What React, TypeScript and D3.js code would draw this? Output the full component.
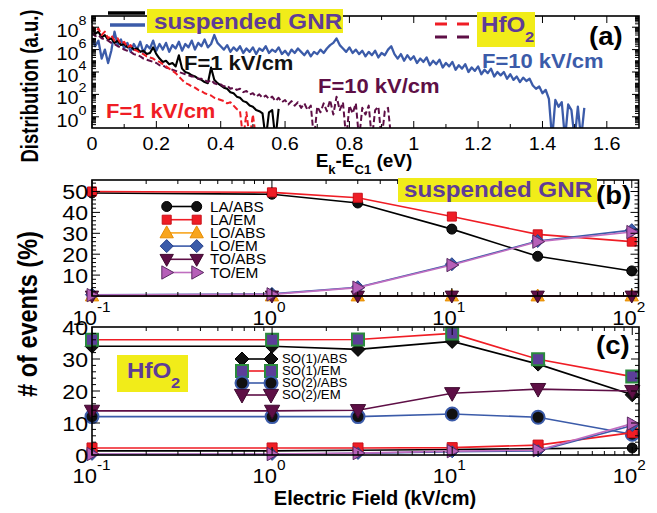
import React from "react";
import * as d3 from "d3";

const FONT = '"Liberation Sans", Arial, Helvetica, sans-serif';

// ---- panel (a): log10 of the distribution, one value every 0.01 eV from 0 ----
const energyStep = 0.01;
const gnrF10 = [
  7.0, 6.3, 6.8, 5.2, 6.0, 4.8, 5.9, 7.6, 6.4, 6.9, 6.1, 6.6, 5.8, 6.5, 6.0, 6.7, 5.7, 6.4, 6.1, 6.8,
  5.9, 6.5, 6.0, 6.6, 5.8, 6.4, 6.1, 6.7, 5.9, 6.5, 6.2, 6.8, 6.0, 6.6, 6.3, 6.9, 6.2, 6.5, 7.3, 6.6,
  6.3, 6.0, 6.4, 5.8, 6.2, 5.9, 6.3, 5.7, 6.1, 5.8, 6.2, 5.6, 6.1, 5.9, 6.3, 5.7, 6.0, 5.8, 6.2, 5.6,
  5.9, 5.5, 6.0, 5.7, 6.1, 5.8, 5.5, 5.9, 5.4, 5.8, 5.6, 6.0, 5.7, 6.1, 6.4, 6.6, 7.0, 6.4, 6.1, 5.8,
  6.2, 5.7, 6.0, 5.6, 5.9, 5.4, 5.8, 5.5, 5.9, 5.3, 5.7, 5.5, 6.0, 6.3, 5.6, 5.2, 5.6, 5.0, 5.5, 5.1,
  5.4, 4.8, 5.2, 4.9, 5.3, 4.6, 5.0, 4.7, 5.1, 4.4, 4.8, 4.5, 4.9, 4.2, 4.6, 4.3, 4.7, 4.0, 4.4, 4.1,
  4.5, 3.8, 4.2, 3.9, 4.3, 3.6, 4.0, 3.7, 4.0, 3.4, 3.8, 3.3, 3.6, 3.1, 3.5, 3.2, 3.4, 2.8, 2.5, 2.7,
  2.1, 2.4, 1.6, -2, 1.5, 0.9, 1.3, -2, 1.1, 0.6, -2, 0.9, -2, 0.8,
];
const gnrF1 = [
  8.0, 7.4, 7.6, 7.1, 7.3, 6.9, 7.0, 6.6, 6.8, 6.4, 6.5, 6.2, 6.3, 6.0, 6.1, 5.8, 5.9, 5.6, 5.7, 6.2,
  5.6, 5.2, 4.9, 5.0, 4.7, 4.8, 4.5, 5.5, 4.3, 4.0, 3.9, 3.7, 3.6, 3.4, 3.3, 3.1, 3.0, 4.4, 3.3, 3.0,
  2.8, 2.6, 2.5, 2.2, 2.1, 1.8, 1.7, 1.4, 1.3, 1.0, 0.9, 0.6, 0.5, 0.3, -2, 0.4, 0.6, -2, 0.7,
];
const hfoF1 = [
  8.1, 7.6, 7.9, 7.3, 7.6, 7.0, 7.3, 6.8, 7.0, 6.5, 6.7, 6.2, 6.4, 6.0, 5.9, 5.7, 5.6, 5.4, 5.3, 5.2,
  5.0, 4.9, 4.7, 4.5, 4.3, 4.1, 3.9, 3.6, 3.3, 3.0, 2.9, 2.7, 2.6, 2.4, 2.3, 2.1, 2.0, 1.9, 1.7, 1.6,
  1.5, 1.4, 1.2, 1.3, 1.0, 0.7, 0.5, -2, 0.4, -2, 0.2, -2,
];
const hfoF10 = [
  7.5, 7.2, 7.3, 7.0, 6.9, 6.8, 6.6, 6.5, 6.3, 6.2, 6.0, 5.9, 5.8, 5.6, 5.5, 5.4, 5.2, 5.1, 5.0, 4.9,
  4.8, 4.6, 4.6, 4.4, 4.3, 4.2, 4.1, 4.0, 3.9, 3.8, 3.7, 3.6, 3.6, 3.4, 3.4, 3.3, 3.1, 3.3, 3.0, 2.9,
  2.9, 2.7, 2.8, 2.5, 2.6, 2.4, 2.5, 2.2, 2.3, 2.0, 2.1, 1.8, 2.0, 1.7, 1.9, 1.6, 1.8, 1.4, 1.7, 1.3,
  1.5, 1.1, 1.4, 1.0, 1.3, 0.8, 1.2, 0.6, 1.0, -2, 0.9, 0.4, 1.2, 0.5, 1.5, 0.2, 1.8, 0.6, 1.3, -2,
  1.0, 0.3, 1.2, -2, 0.8, 0.2, 1.0, -2, 0.6, 0.9, -2, 0.5, 0.8, -2,
];
const energyTicks = [0, 0.2, 0.4, 0.6, 0.8, 1, 1.2, 1.4, 1.6];
const energyTickLabels = ["0", "0.2", "0.4", "0.6", "0.8", "1", "1.2", "1.4", "1.6"];
const distDecades = [0, 2, 4, 6, 8];

// ---- panels (b) and (c): % of events vs electric field ----
const fields = [0.1, 1, 3, 10, 30, 100];
const fieldDecades = [-1, 0, 1, 2];

const gnrLaAbs = [49.3, 48.7, 44.5, 32, 19, 12];
const gnrLaEm = [50, 49.6, 47, 38, 29.5, 26];
const gnrLoAbs = [0, 0, 0, 0, 0, 0];
const gnrLoEm = [0.6, 1, 4.2, 15.2, 26.3, 31.5];
const gnrToAbs = [0, 0, 0, 0, 0, 0];
const gnrToEm = [0.4, 0.8, 4, 14.8, 26, 30.6];
const gnrTicks = [10, 20, 30, 40, 50];

const hfoSo1Abs = [34, 34, 33, 35.5, 28.4, 18.8];
const hfoSo1Em = [36, 36, 36.1, 38, 29.9, 24.5];
const hfoSo2Abs = [12, 12, 12, 12.8, 11.8, 6.5];
const hfoSo2Em = [13.8, 13.8, 14, 19.3, 20.6, 20];
const hfoLaAbs = [1.3, 1.3, 1.5, 1.7, 2.0, 2.2];
const hfoLaEm = [2.2, 2.2, 2.2, 2.3, 3.1, 7.0];
const hfoLoEm = [0.2, 0.2, 0.5, 1.0, 1.3, 9.2];
const hfoToEm = [0.3, 0.3, 0.6, 1.2, 1.5, 9.8];
const hfoTicks = [0, 10, 20, 30, 40];

const A = { left: 92, right: 639, top: 16, bottom: 128 };
const B = { left: 92, right: 638.5, top: 180, bottom: 296 };
const C = { left: 92, right: 639, top: 327, bottom: 455 };

const RED = "#ef1d25";
const BLUE = "#3b5ba9";
const MAROON = "#5e0f46";
const ORANGE = "#f8a51d";
const ORCHID = "#b65fb8";
const PURPLE = "#5f3c97";
const YELLOW = "#f1ec19";

function markerPath(shape: string, r: number) {
  switch (shape) {
    case "circle":
      return `M${-r},0a${r},${r} 0 1,0 ${2 * r},0a${r},${r} 0 1,0 ${-2 * r},0Z`;
    case "square":
      return `M${-r},${-r}h${2 * r}v${2 * r}h${-2 * r}Z`;
    case "diamond":
      return `M0,${-r}L${r},0L0,${r}L${-r},0Z`;
    case "up":
      return `M0,${-r}L${r * 0.95},${r * 0.7}L${-r * 0.95},${r * 0.7}Z`;
    case "down":
      return `M0,${r}L${r * 0.95},${-r * 0.7}L${-r * 0.95},${-r * 0.7}Z`;
    default:
      return `M${r},0L${-r * 0.7},${r * 0.95}L${-r * 0.7},${-r * 0.95}Z`;
  }
}

type Series = {
  label?: string;
  values: number[];
  shape: string;
  r: number;
  fill: string;
  stroke: string;
  sw?: number;
  line: string;
};

const gnrSeries: Series[] = [
  { label: "LA/ABS", values: gnrLaAbs, shape: "circle", r: 5, fill: "#111", stroke: "#000", line: "#000" },
  { label: "LA/EM", values: gnrLaEm, shape: "square", r: 4.5, fill: RED, stroke: "#c8101a", line: RED },
  { label: "LO/ABS", values: gnrLoAbs, shape: "up", r: 7, fill: ORANGE, stroke: "#e68c00", line: ORANGE },
  { label: "LO/EM", values: gnrLoEm, shape: "diamond", r: 6.5, fill: BLUE, stroke: "#243f8a", line: BLUE },
  { label: "TO/ABS", values: gnrToAbs, shape: "down", r: 7, fill: MAROON, stroke: "#3e0a2f", line: MAROON },
  { label: "TO/EM", values: gnrToEm, shape: "right", r: 7, fill: ORCHID, stroke: "#5a2a62", line: "#c06ec0" },
];

const hfoSeries: Series[] = [
  { label: "SO(1)/ABS", values: hfoSo1Abs, shape: "diamond", r: 7, fill: "#111", stroke: "#000", line: "#000" },
  { label: "SO(1)/EM", values: hfoSo1Em, shape: "square", r: 6, fill: "#5c3f99", stroke: "#2a8a3e", sw: 2, line: RED },
  { label: "SO(2)/ABS", values: hfoSo2Abs, shape: "circle", r: 6.5, fill: "#111", stroke: BLUE, sw: 2, line: BLUE },
  { label: "SO(2)/EM", values: hfoSo2Em, shape: "down", r: 8, fill: MAROON, stroke: "#3e0a2f", line: MAROON },
  { values: hfoLaAbs, shape: "circle", r: 5, fill: "#111", stroke: "#000", line: "#000" },
  { values: hfoLaEm, shape: "square", r: 5, fill: RED, stroke: "#c8101a", line: RED },
  { values: hfoLoEm, shape: "diamond", r: 6, fill: BLUE, stroke: "#243f8a", line: BLUE },
  { values: hfoToEm, shape: "right", r: 7, fill: ORCHID, stroke: "#5a2a62", line: "#c06ec0" },
];

function T(props: {
  x: number; y: number; size: number; anchor?: string; weight?: string; fill?: string; sx?: number;
  children: React.ReactNode;
}) {
  const { x, y, size, anchor = "start", weight = "normal", fill = "#000", sx = 1.1, children } = props;
  return (
    <text transform={`translate(${x},${y}) scale(${sx},1)`} fontSize={size} fontWeight={weight}
      fill={fill} textAnchor={anchor as any} fontFamily={FONT}>
      {children}
    </text>
  );
}

type Tick = { p: number; len: number };

function Frame({ box, xs, ys }: { box: typeof A; xs: Tick[]; ys: Tick[] }) {
  return (
    <g stroke="#000" strokeWidth={1} fill="none">
      {xs.map((t, i) => (
        <g key={"x" + i}>
          <line x1={t.p} x2={t.p} y1={box.bottom} y2={box.bottom - t.len} />
          <line x1={t.p} x2={t.p} y1={box.top} y2={box.top + t.len} />
        </g>
      ))}
      {ys.map((t, i) => (
        <g key={"y" + i}>
          <line x1={box.left} x2={box.left + t.len} y1={t.p} y2={t.p} />
          <line x1={box.right} x2={box.right - t.len} y1={t.p} y2={t.p} />
        </g>
      ))}
      <rect x={box.left} y={box.top} width={box.right - box.left} height={box.bottom - box.top} strokeWidth={1.6} />
    </g>
  );
}

function logFieldTicks(x: d3.ScaleLogarithmic<number, number>): Tick[] {
  const out: Tick[] = [];
  for (const n of fieldDecades) {
    for (let k = 1; k <= 9; k++) {
      const v = k * Math.pow(10, n);
      if (v > 109 || (n === 2 && k > 1)) continue;
      out.push({ p: x(v), len: k === 1 ? 8 : 4 });
    }
  }
  return out;
}

function Markers({ s, x, y }: { s: Series; x: (v: number) => number; y: (v: number) => number }) {
  const line = d3.line<number>().x((_, i) => x(fields[i])).y((v) => y(v));
  const d = markerPath(s.shape, s.r);
  return (
    <g>
      <path d={line(s.values) || ""} fill="none" stroke={s.line} strokeWidth={1.6} />
      {s.values.map((v, i) => (
        <path key={i} d={d} transform={`translate(${x(fields[i])},${y(v)})`} fill={s.fill}
          stroke={s.stroke} strokeWidth={s.sw ?? 1} />
      ))}
    </g>
  );
}

function LegendRow({ s, y, x0, x1, tx, size }: { s: Series; y: number; x0: number; x1: number; tx: number; size: number }) {
  const d = markerPath(s.shape, s.r);
  return (
    <g>
      <line x1={x0} x2={x1} y1={y} y2={y} stroke={s.line} strokeWidth={1.6} />
      <path d={d} transform={`translate(${x0},${y})`} fill={s.fill} stroke={s.stroke} strokeWidth={s.sw ?? 1} />
      <path d={d} transform={`translate(${x1},${y})`} fill={s.fill} stroke={s.stroke} strokeWidth={s.sw ?? 1} />
      <T x={tx} y={y + size * 0.36} size={size}>{s.label}</T>
    </g>
  );
}

function DecadeLabel({ x, y, exp, size, sup, dy }: { x: number; y: number; exp: number; size: number; sup: number; dy: number }) {
  return (
    <g>
      <T x={x} y={y} size={size} anchor="end">10</T>
      <T x={x} y={y - dy} size={sup} anchor="start">{String(exp)}</T>
    </g>
  );
}

export default function App() {
  const xA = d3.scaleLinear().domain([0, 1.7]).range([A.left, A.right]);
  const yA = d3.scaleLog().domain([1e-1, 1e9]).range([A.bottom, A.top]);
  const xB = d3.scaleLog().domain([0.1, 109]).range([B.left, B.right]);
  const yB = d3.scaleLinear().domain([0, 55.5]).range([B.bottom, B.top]);
  const xC = d3.scaleLog().domain([0.1, 109]).range([C.left, C.right]);
  const yC = d3.scaleLinear().domain([0, 40]).range([C.bottom, C.top]);

  const distLine = d3.line<number>().x((_, i) => xA(i * energyStep)).y((v) => yA(Math.pow(10, v)));

  const aXTicks: Tick[] = d3.range(0, 17).map((i) => ({ p: xA(i / 10), len: i % 2 === 0 ? 7 : 4 }));
  const aYTicks: Tick[] = [];
  for (let n = -1; n <= 8; n++) {
    for (let k = 1; k <= 9; k++) {
      const v = k * Math.pow(10, n);
      if (v <= 0.1 || v > 1e9) continue;
      const major = k === 1 && n >= 0 && n % 2 === 0;
      aYTicks.push({ p: yA(v), len: major ? 7 : 4 });
    }
  }
  const bYTicks: Tick[] = d3.range(2, 56, 2).map((v) => ({ p: yB(v), len: v % 10 === 0 ? 8 : 4 }));
  const cYTicks: Tick[] = d3.range(2, 40, 2).map((v) => ({ p: yC(v), len: v % 10 === 0 ? 8 : 4 }));

  return (
    <svg width={657} height={513} style={{ position: "absolute", left: 0, top: 0, background: "#fff" }}>
      <defs>
        <clipPath id="clipA">
          <rect x={A.left} y={A.top} width={A.right - A.left} height={A.bottom - A.top} />
        </clipPath>
      </defs>

      {/* panel (a) */}
      <g clipPath="url(#clipA)" fill="none" strokeLinejoin="round">
        <path d={distLine(gnrF10) || ""} stroke={BLUE} strokeWidth={2.3} />
        <path d={distLine(gnrF1) || ""} stroke="#000" strokeWidth={2.1} />
        <path d={distLine(hfoF10) || ""} stroke={MAROON} strokeWidth={2} strokeDasharray="6,3" />
        <path d={distLine(hfoF1) || ""} stroke={RED} strokeWidth={2} strokeDasharray="6,3" />
      </g>
      <Frame box={A} xs={aXTicks} ys={aYTicks} />
      {energyTicks.map((v, i) => (
        <T key={i} x={xA(v)} y={150} size={18} anchor="middle">{energyTickLabels[i]}</T>
      ))}
      {distDecades.map((n) => (
        <DecadeLabel key={n} x={78.5} y={yA(Math.pow(10, n)) + 10} exp={n} size={18} sup={13} dy={12} />
      ))}
      <text x={364} y={167} textAnchor="middle" fontFamily={FONT} fontWeight="bold" fontSize={19}>
        E<tspan fontSize={13} dy={7}>k</tspan><tspan dy={-7}>-E</tspan><tspan fontSize={13} dy={7}>C1</tspan>
        <tspan dy={-7}> (eV)</tspan>
      </text>
      <text transform="translate(38,86) scale(1.3,1) rotate(-90)" textAnchor="middle" fontFamily={FONT}
        fontWeight="bold" fontSize={18.5}>Distribution (a.u.)</text>

      {/* (a) legend and notes */}
      <line x1={108} x2={145} y1={13} y2={13} stroke="#000" strokeWidth={3.5} />
      <line x1={110} x2={145} y1={25} y2={25} stroke={BLUE} strokeWidth={3.5} />
      <rect x={147} y={9} width={196} height={24} fill={YELLOW} />
      <T x={154} y={29} size={22} weight="bold" fill={PURPLE}>suspended GNR</T>
      <line x1={435} x2={470} y1={24} y2={24} stroke={RED} strokeWidth={3} strokeDasharray="12,10" />
      <line x1={435} x2={470} y1={37} y2={37} stroke={MAROON} strokeWidth={3} strokeDasharray="12,10" />
      <rect x={477} y={12} width={58} height={35} fill={YELLOW} />
      <T x={481} y={32} size={22} weight="bold" fill={PURPLE}>HfO</T>
      <T x={525} y={42} size={15} weight="bold" fill={PURPLE}>2</T>
      <T x={589} y={45} size={25} weight="bold">(a)</T>
      <T x={184} y={70} size={20} weight="bold" fill="#111">F=1 kV/cm</T>
      <T x={106} y={118} size={20} weight="bold" fill={RED}>F=1 kV/cm</T>
      <T x={318} y={93} size={20} weight="bold" fill={MAROON}>F=10 kV/cm</T>
      <T x={482} y={68} size={20} weight="bold" fill={BLUE}>F=10 kV/cm</T>

      {/* panel (b) */}
      {gnrSeries.map((s, i) => (
        <Markers key={i} s={s} x={xB} y={yB} />
      ))}
      <Frame box={B} xs={logFieldTicks(xB)} ys={bYTicks} />
      {gnrTicks.map((v) => (
        <T key={v} x={88} y={yB(v) + 8} size={21} anchor="end">{String(v)}</T>
      ))}
      {fieldDecades.map((n) => (
        <DecadeLabel key={n} x={xB(Math.pow(10, n)) + 5} y={325} exp={n} size={20} sup={14} dy={13} />
      ))}
      {gnrSeries.map((s, i) => (
        <LegendRow key={i} s={s} y={206.5 + i * 13.2} x0={166.7} x1={196.7} tx={210} size={14} />
      ))}
      <rect x={398} y={178} width={199} height={24} fill={YELLOW} />
      <T x={404} y={197} size={22} weight="bold" fill={PURPLE}>suspended GNR</T>
      <T x={596} y={204} size={25} weight="bold">(b)</T>

      {/* panel (c) */}
      {hfoSeries.map((s, i) => (
        <Markers key={i} s={s} x={xC} y={yC} />
      ))}
      <Frame box={C} xs={logFieldTicks(xC)} ys={cYTicks} />
      {hfoTicks.map((v) => (
        <T key={v} x={88} y={yC(v) + 8} size={21} anchor="end">{String(v)}</T>
      ))}
      {fieldDecades.map((n) => (
        <DecadeLabel key={n} x={xC(Math.pow(10, n)) + 5} y={483} exp={n} size={20} sup={14} dy={13} />
      ))}
      {hfoSeries.slice(0, 4).map((s, i) => (
        <LegendRow key={i} s={s} y={359 + i * 12} x0={242} x1={271} tx={282} size={12} />
      ))}
      <rect x={117} y={355} width={71} height={37} fill={YELLOW} />
      <T x={127} y={378} size={22} weight="bold" fill={PURPLE}>HfO</T>
      <T x={171} y={388} size={15} weight="bold" fill={PURPLE}>2</T>
      <T x={596} y={354} size={25} weight="bold">(c)</T>
      <text x={375} y={505} textAnchor="middle" fontFamily={FONT} fontWeight="bold" fontSize={20}>
        Electric Field (kV/cm)
      </text>
      <text transform="translate(37,314) scale(1.15,1) rotate(-90)" textAnchor="middle" fontFamily={FONT}
        fontWeight="bold" fontSize={23.5}># of events (%)</text>
    </svg>
  );
}
